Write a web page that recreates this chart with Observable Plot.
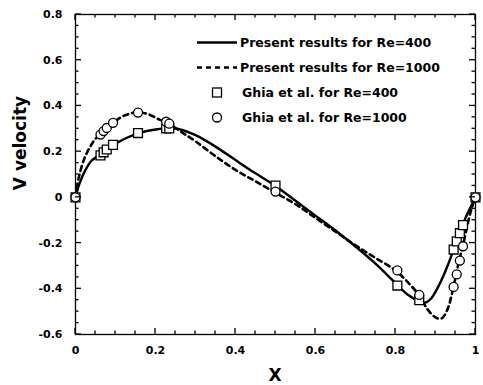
<!DOCTYPE html>
<html>
<head>
<meta charset="utf-8">
<script src="https://cdn.jsdelivr.net/npm/d3@7"></script>
<script src="https://cdn.jsdelivr.net/npm/@observablehq/plot@0.6"></script>
<style>
  html, body { margin: 0; padding: 0; background: #fff; }
  #chart { position: relative; width: 483px; height: 385px; }
  svg { font-family: "DejaVu Sans", sans-serif; }
</style>
</head>
<body>
<div id="chart"></div>
<script>
// ---- Data ----
// Present results, Re=400 (solid)
const re400X = [0, 0.01, 0.025, 0.04, 0.06, 0.08, 0.10, 0.13, 0.16, 0.20, 0.23, 0.26, 0.30, 0.35, 0.40, 0.45, 0.50, 0.55, 0.60, 0.65, 0.70, 0.75, 0.80, 0.83, 0.86, 0.875, 0.89, 0.91, 0.93, 0.945, 0.96, 0.975, 0.99, 1.0];
const re400V = [0, 0.06, 0.12, 0.16, 0.185, 0.213, 0.235, 0.262, 0.282, 0.297, 0.302, 0.298, 0.272, 0.222, 0.163, 0.105, 0.05, -0.015, -0.08, -0.145, -0.215, -0.29, -0.375, -0.425, -0.455, -0.46, -0.44, -0.38, -0.30, -0.23, -0.155, -0.09, -0.035, 0];
// Present results, Re=1000 (dashed)
const re1000X = [0, 0.005, 0.01, 0.02, 0.03, 0.045, 0.06, 0.08, 0.10, 0.125, 0.155, 0.18, 0.21, 0.24, 0.27, 0.30, 0.35, 0.40, 0.45, 0.50, 0.55, 0.60, 0.65, 0.70, 0.75, 0.80, 0.83, 0.86, 0.88, 0.90, 0.915, 0.93, 0.94, 0.95, 0.96, 0.97, 0.98, 0.99, 1.0];
const re1000V = [0, 0.06, 0.10, 0.16, 0.20, 0.245, 0.275, 0.31, 0.335, 0.36, 0.372, 0.365, 0.34, 0.315, 0.28, 0.245, 0.18, 0.12, 0.07, 0.02, -0.03, -0.09, -0.15, -0.21, -0.265, -0.32, -0.37, -0.43, -0.49, -0.525, -0.53, -0.49, -0.43, -0.35, -0.27, -0.20, -0.12, -0.05, 0];
// Ghia et al. reference points
const ghiaX = [0.0, 0.0625, 0.0703, 0.0781, 0.0938, 0.1563, 0.2266, 0.2344, 0.5000, 0.8047, 0.8594, 0.9453, 0.9531, 0.9609, 0.9688, 1.0];
const ghia400V = [0, 0.18360, 0.19713, 0.20920, 0.22965, 0.28124, 0.30203, 0.30174, 0.05186, -0.38598, -0.44993, -0.22847, -0.19254, -0.15663, -0.12146, 0];
const ghia1000V = [0, 0.27485, 0.29012, 0.30353, 0.32627, 0.37095, 0.33075, 0.32235, 0.02526, -0.31966, -0.42665, -0.39188, -0.33714, -0.27669, -0.21388, 0];

const xTickValues = [0, 0.2, 0.4, 0.6, 0.8, 1];
const xTickLabels = ["0", "0.2", "0.4", "0.6", "0.8", "1"];
const yTickValues = [-0.6, -0.4, -0.2, 0, 0.2, 0.4, 0.6, 0.8];
const yTickLabels = ["-0.6", "-0.4", "-0.2", "0", "0.2", "0.4", "0.6", "0.8"];
const xMinor = d3.range(0, 1.0001, 0.05);
const yMinor = d3.range(-0.6, 0.8001, 0.05);

const xTitle = "X";
const yTitle = "V velocity";
const legendEntries = [
  {label: "Present results for Re=400", kind: "solid"},
  {label: "Present results for Re=1000", kind: "dashed"},
  {label: "Ghia et al. for Re=400", kind: "square"},
  {label: "Ghia et al. for Re=1000", kind: "circle"}
];

// ---- Tables ----
const line400 = re400X.map((x, i) => ({x, v: re400V[i]}));
const line1000 = re1000X.map((x, i) => ({x, v: re1000V[i]}));
const pts400 = ghiaX.map((x, i) => ({x, v: ghia400V[i]}));
const pts1000 = ghiaX.map((x, i) => ({x, v: ghia1000V[i]}));

const fmtX = d => xTickLabels[xTickValues.findIndex(t => Math.abs(t - d) < 1e-9)];
const fmtY = d => yTickLabels[yTickValues.findIndex(t => Math.abs(t - d) < 1e-9)];

const chart = Plot.plot({
  width: 483,
  height: 385,
  marginLeft: 75,
  marginRight: 8,
  marginTop: 14,
  marginBottom: 51,
  style: {fontFamily: "DejaVu Sans", background: "white", color: "black"},
  x: {domain: [0, 1]},
  y: {domain: [-0.6, 0.8]},
  marks: [
    Plot.axisX(xTickValues, {anchor: "bottom", tickSize: 0, tickPadding: 12, tickFormat: fmtX, label: null,
      fontSize: 11, fontWeight: "bold"}),
    Plot.axisY(yTickValues, {anchor: "left", tickSize: 0, tickPadding: 13, tickFormat: fmtY, label: null,
      fontSize: 11, fontWeight: "bold"}),
    Plot.frame({stroke: "black", strokeWidth: 1.3}),
    Plot.line(line400, {x: "x", y: "v", stroke: "black", strokeWidth: 2.4, curve: "catmull-rom"}),
    Plot.line(line1000, {x: "x", y: "v", stroke: "black", strokeWidth: 2.6, strokeDasharray: "5,4", curve: "catmull-rom"}),
    Plot.dot(pts400, {x: "x", y: "v", symbol: "square", r: 5, fill: "white", stroke: "black", strokeWidth: 1.3}),
    Plot.dot(pts1000, {x: "x", y: "v", symbol: "circle", r: 4.5, fill: "white", stroke: "black", strokeWidth: 1.3})
  ]
});

document.getElementById("chart").appendChild(chart);

const svg = d3.select(chart);
const sx = chart.scale("x"), sy = chart.scale("y");
const x0 = sx.apply(0), x1 = sx.apply(1);
const yBot = sy.apply(-0.6), yTop = sy.apply(0.8);

// inward ticks on all four sides, positioned by Plot's scales
const tg = svg.append("g");
const isMajor = (v, list) => list.some(t => Math.abs(t - v) < 1e-9);
const tick = (a, b, c, d) => tg.append("line")
  .attr("x1", a).attr("y1", b).attr("x2", c).attr("y2", d)
  .style("stroke", "black").style("stroke-width", "1.3px");
xMinor.forEach(v => {
  const px = sx.apply(v);
  const len = isMajor(v, xTickValues) ? 6 : 3.5;
  tick(px, yBot, px, yBot - len);
  tick(px, yTop, px, yTop + len);
});
yMinor.forEach(v => {
  const py = sy.apply(v);
  const len = isMajor(v, yTickValues) ? 6 : 3.5;
  tick(x0, py, x0 + len, py);
  tick(x1, py, x1 - len, py);
});

// axis titles
svg.append("text")
  .attr("x", (x0 + x1) / 2).attr("y", 375)
  .attr("text-anchor", "middle").attr("dominant-baseline", "central")
  .attr("font-size", 17).attr("font-weight", "bold").attr("fill", "black")
  .text(xTitle);
svg.append("text")
  .attr("transform", "translate(20,143) rotate(-90)")
  .attr("text-anchor", "middle").attr("dominant-baseline", "central")
  .attr("font-size", 17).attr("font-weight", "bold").attr("fill", "black")
  .text(yTitle);

// Legend (inside plot, top right)
const lg = svg.append("g").attr("font-size", 12.5).attr("font-weight", "bold").attr("text-anchor", "start");
legendEntries.forEach((e, i) => {
  const cy = 42.5 + i * 25;
  if (e.kind === "solid") {
    lg.append("line").attr("x1", 197).attr("x2", 237).attr("y1", cy).attr("y2", cy)
      .attr("stroke", "black").attr("stroke-width", 2.4);
  } else if (e.kind === "dashed") {
    lg.append("line").attr("x1", 197).attr("x2", 237).attr("y1", cy).attr("y2", cy)
      .attr("stroke", "black").attr("stroke-width", 2.6).attr("stroke-dasharray", "5,4");
  } else if (e.kind === "square") {
    lg.append("rect").attr("x", 217 - 4.5).attr("y", cy - 4.5).attr("width", 9).attr("height", 9)
      .attr("fill", "white").attr("stroke", "black").attr("stroke-width", 1.3);
  } else {
    lg.append("circle").attr("cx", 217).attr("cy", cy).attr("r", 4.5)
      .attr("fill", "white").attr("stroke", "black").attr("stroke-width", 1.3);
  }
  lg.append("text").attr("x", e.kind === "solid" || e.kind === "dashed" ? 240 : 242)
    .attr("y", cy).attr("dominant-baseline", "central").attr("text-anchor", "start")
    .attr("fill", "black").text(e.label);
});
</script>
</body>
</html>
